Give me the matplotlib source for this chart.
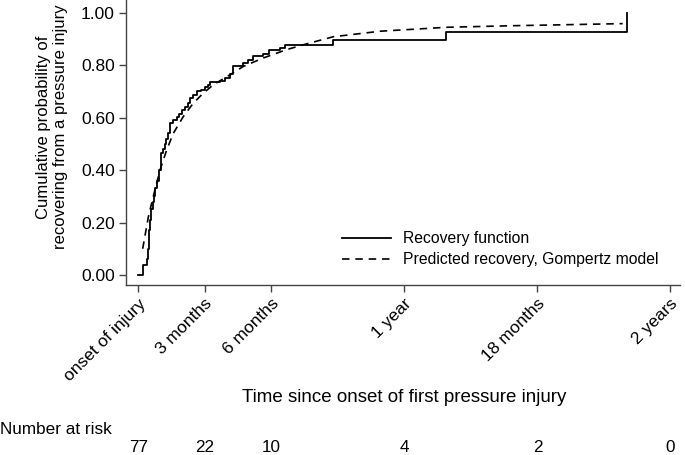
import matplotlib
matplotlib.use("Agg")
import matplotlib.pyplot as plt
import matplotlib.transforms as mtransforms

plt.rcParams['font.family'] = ['Liberation Sans', 'DejaVu Sans']

# Kaplan-Meier type recovery function (step times in days, cumulative probability)
km_days = [0, 6.9, 12.4, 13.3, 14.7, 16.1, 17.4, 19.5, 21.6, 23.6, 25.7, 28.4, 30.8,
           33.9, 36.0, 38.7, 41.2, 43.5, 47.6, 52.7, 55.9, 59.6, 64.1, 68.6, 71.0,
           75.1, 80.2, 86.1, 91.6, 95.7, 98.4, 112.2, 119.0, 125.9, 130.4, 144.1,
           151.0, 157.9, 171.6, 179.8, 194.5, 201.4, 267.3, 422.4, 670.5]
km_prob = [0.0, 0.038, 0.06, 0.10, 0.17, 0.21, 0.25, 0.28, 0.30, 0.33, 0.36, 0.40, 0.465,
           0.48, 0.50, 0.52, 0.54, 0.58, 0.59, 0.604, 0.615, 0.63, 0.64, 0.656, 0.675,
           0.685, 0.70, 0.705, 0.715, 0.725, 0.735, 0.74, 0.75, 0.765, 0.798, 0.808,
           0.82, 0.836, 0.843, 0.856, 0.865, 0.877, 0.897, 0.926, 1.0]

# Predicted recovery, Gompertz model
gomp_days = [6.0, 13.7, 20.6, 29.8, 39.0, 48.1, 61.8, 75.5, 89.2, 103.0, 125.9, 144.2,
             171.6, 203.7, 230.0, 267.7, 332.0, 423.0, 514.0, 590.0, 665.0]
gomp_prob = [0.10, 0.22, 0.30, 0.40, 0.477, 0.54, 0.604, 0.655, 0.693, 0.725, 0.763, 0.795,
             0.827, 0.859, 0.88, 0.908, 0.929, 0.944, 0.95, 0.954, 0.958]

tick_days = [0, 91, 182, 365, 548, 730]
tick_labels = ['onset of injury', '3 months', '6 months', '1 year', '18 months', '2 years']
at_risk = [77, 22, 10, 4, 2, 0]
y_ticks = [0.0, 0.2, 0.4, 0.6, 0.8, 1.0]

fig = plt.figure(figsize=(6.85, 4.55), dpi=100)
ax = fig.add_axes([126/685, 1 - 285/455, 554/685, 285/455])

ax.step(km_days, km_prob, where='post', color='black', lw=1.3, label='Recovery function')
ax.plot(gomp_days, gomp_prob, color='black', lw=1.2, dashes=(4.5, 3.5),
        label='Predicted recovery, Gompertz model')

ax.set_xlim(-16.9, 743.7)
ax.set_ylim(-0.038, 1.048)
ax.set_yticks(y_ticks)
ax.set_yticklabels([f'{v:.2f}' for v in y_ticks], fontsize=12.5)
ax.set_xticks(tick_days)
ax.set_xticklabels(tick_labels, fontsize=12.5, rotation=45, ha='right',
                   rotation_mode='anchor')
for s in ['top', 'right']:
    ax.spines[s].set_visible(False)
for s in ['left', 'bottom']:
    ax.spines[s].set_color('#444444')
    ax.spines[s].set_linewidth(1.0)
ax.tick_params(axis='both', direction='out', length=5, width=1.0, color='#444444',
               labelcolor='black')
ax.tick_params(axis='x', pad=3)
ax.tick_params(axis='y', pad=3)

ax.set_ylabel('Cumulative probability of\nrecovering from a pressure injury',
              fontsize=12)
ax.yaxis.set_label_coords(-(126 - 68) / 554, 0.555)
fig.text(404/685, 1 - 398/455, 'Time since onset of first pressure injury',
         fontsize=13.5, ha='center', va='center')

leg = ax.legend(loc='upper left', bbox_to_anchor=((342 - 126) / 554, (285 - 231) / 285),
                frameon=False, fontsize=11.3, handlelength=3.1, handletextpad=0.8,
                labelspacing=0.4, borderpad=0, borderaxespad=0)

fig.text(0.0, 1 - 429/455, 'Number at risk', fontsize=12.3, ha='left', va='center')
trans = mtransforms.blended_transform_factory(ax.transData, fig.transFigure)
for d, n in zip(tick_days, at_risk):
    fig.text(d, 1 - 448/455, str(n), transform=trans, fontsize=12.3,
             ha='center', va='center')

fig.savefig('out.png', dpi=100)
